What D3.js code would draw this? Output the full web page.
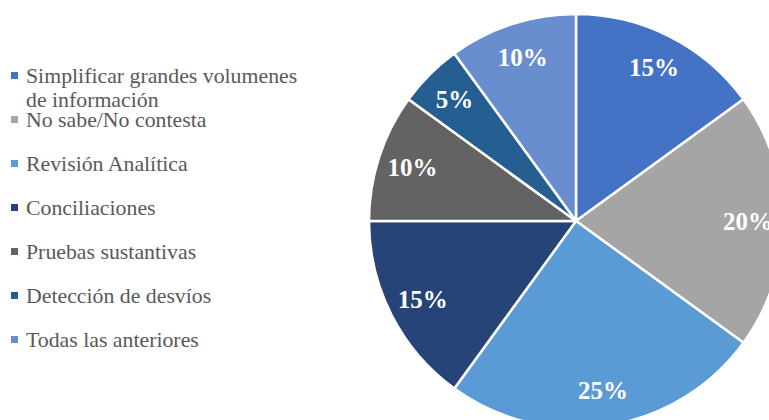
<!DOCTYPE html>
<html><head><meta charset="utf-8">
<script src="https://cdn.jsdelivr.net/npm/d3@7"></script>
<style>html,body{margin:0;padding:0;background:#fff;overflow:hidden}</style>
</head><body>
<svg id="c" width="769" height="420"></svg>
<script>
const categories = ["Simplificar grandes volumenes de información","No sabe/No contesta","Revisión Analítica","Conciliaciones","Pruebas sustantivas","Detección de desvíos","Todas las anteriores"];
const values = [15, 20, 25, 15, 10, 5, 10];
const colors = ["#4472C4","#A5A5A5","#5B9BD5","#264478","#636363","#255E91","#698ED0"];
const legendLines = [["Simplificar grandes volumenes","de información"],["No sabe/No contesta"],["Revisión Analítica"],["Conciliaciones"],["Pruebas sustantivas"],["Detección de desvíos"],["Todas las anteriores"]];

const FONT = '"Liberation Serif"';
const svg = d3.select("#c");
const cx = 576, cy = 221, r = 207;
const data = categories.map((c,i)=>({cat:c, v:values[i], col:colors[i], lines:legendLines[i]}));
const pie = d3.pie().value(d=>d.v).sort(null);
const arc = d3.arc().innerRadius(0).outerRadius(r);
const labelArc = d3.arc().innerRadius(172).outerRadius(172);
const total = d3.sum(values);
const g = svg.append("g").attr("transform",`translate(${cx},${cy})`);
const arcs = pie(data);
g.selectAll("path").data(arcs).join("path")
  .attr("d",arc).attr("fill",d=>d.data.col)
  .attr("stroke","#fff").attr("stroke-width",2.5).attr("stroke-linejoin","round");
g.selectAll("text").data(arcs).join("text")
  .attr("transform",d=>`translate(${labelArc.centroid(d)})`)
  .attr("text-anchor","middle").attr("dominant-baseline","central")
  .style("font-family",FONT)
  .style("font-weight","bold").style("font-size","25px").attr("fill","#fff")
  .text(d=>Math.round(d.data.v/total*100)+"%");

const y = d3.scalePoint().domain(categories).range([83,347]);
const lg = svg.append("g");
const item = lg.selectAll("g").data(data).join("g")
  .attr("transform",d=>`translate(0,${y(d.cat)})`);
item.append("rect").attr("x",11).attr("y",-11).attr("width",7).attr("height",7).attr("fill",d=>d.col);
item.append("text").attr("x",26).attr("y",0)
  .style("font-family",FONT)
  .style("font-size","21.8px").attr("fill","#595959")
  .selectAll("tspan").data(d=>d.lines).join("tspan")
  .attr("x",26).attr("dy",(d,i)=>i?24:0).text(d=>d);
</script>
</body></html>
